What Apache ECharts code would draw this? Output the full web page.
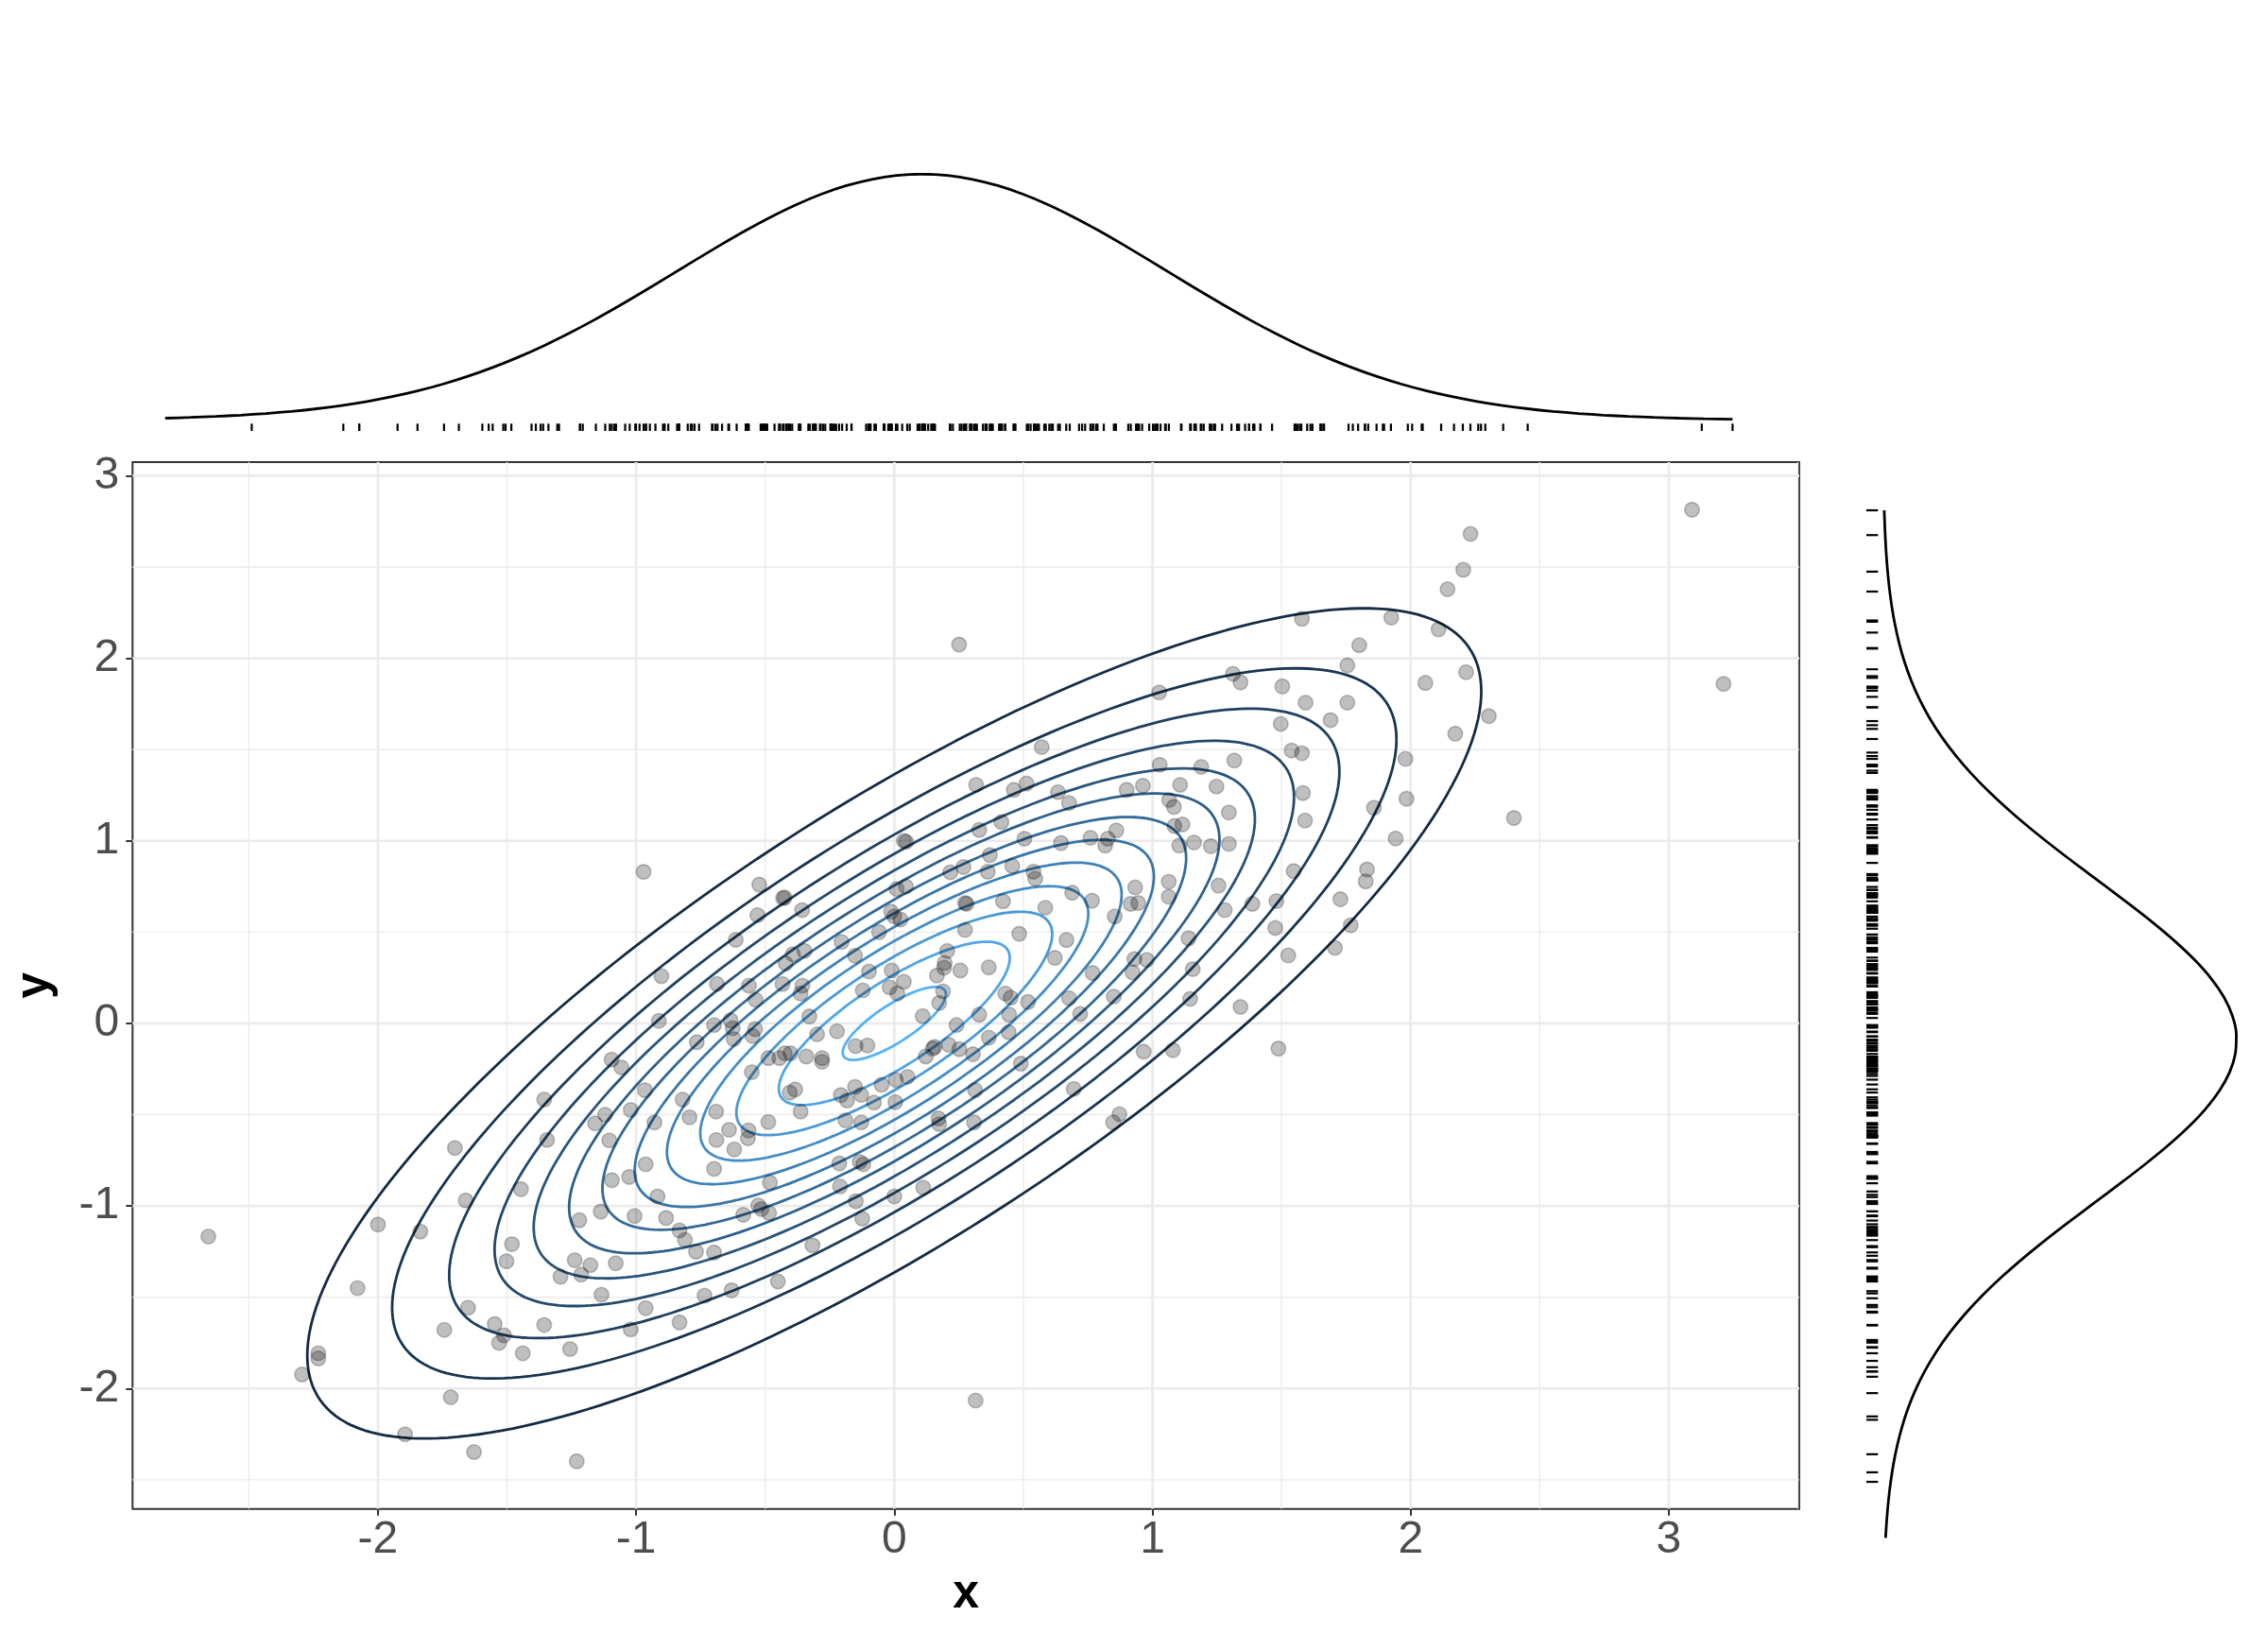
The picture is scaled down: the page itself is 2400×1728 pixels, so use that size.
<!DOCTYPE html>
<html>
<head>
<meta charset="utf-8">
<script src="https://cdn.jsdelivr.net/npm/echarts@6/dist/echarts.min.js"></script>
<style>
html,body{margin:0;padding:0;background:#ffffff;}
#chart{width:2400px;height:1728px;}
</style>
</head>
<body>
<div id="chart"></div>
<script>
// ---------------- data ----------------
const pointsX = [
-0.902,-0.687,-0.563,-0.537,-0.433,-0.421,-0.393,-0.348,-0.356,-0.363,
-0.329,-0.912,-0.698,-0.634,-0.626,-0.622,-0.539,-0.549,-0.765,-0.222,
-0.299,-1.095,-1.057,-0.488,-0.445,-0.424,-0.402,-0.341,-0.280,-0.280,
-0.552,-0.384,-0.405,-0.207,-0.183,-1.356,-0.966,-0.820,-1.021,-1.120,
-1.159,-0.929,-0.793,-0.690,-0.640,-0.689,-0.620,-0.565,-0.567,-0.488,
-0.363,-0.189,-1.345,-1.104,-0.963,-0.698,-1.094,-1.027,-0.917,-0.213,
-0.134,-0.120,-0.482,-0.210,-0.149,0.000,0.112,-0.527,-0.515,-0.485,
-0.585,-1.220,-1.137,-1.006,-0.884,-0.832,-0.811,-0.124,-0.768,-0.698,
-0.317,-1.238,-1.177,-1.079,-1.213,-1.293,-1.134,-0.963,-0.735,-0.630,
-0.451,-1.356,-1.021,-0.832,-1.256,
0.571,0.317,0.463,0.512,0.634,0.677,1.028,1.189,1.317,0.900,
0.963,1.107,1.248,1.065,1.083,1.296,1.085,1.116,1.104,1.161,
1.226,1.296,0.415,0.329,0.504,0.646,0.760,0.817,0.827,0.860,
0.037,0.046,0.370,0.362,0.457,0.539,0.546,0.268,0.217,0.009,
0.045,0.280,0.274,0.421,0.689,0.585,0.766,0.933,0.915,0.945,
0.854,1.063,1.063,1.256,1.280,1.387,1.480,1.476,-0.012,0.000,
0.024,-0.059,0.274,0.484,0.667,0.622,1.140,0.930,0.978,0.923,
1.156,0.768,-0.152,-0.098,-0.010,0.037,-0.122,-0.018,0.012,0.205,
0.195,0.193,0.165,0.256,0.366,0.189,0.174,0.110,0.241,0.329,
0.430,0.451,0.445,0.518,0.443,0.366,0.677,0.720,0.850,1.146,
1.341,-0.150,-0.104,0.149,0.156,0.122,0.211,0.252,0.305,0.490,
0.966,1.079,1.488,-0.049,0.006,0.051,-0.152,-0.128,-0.079,0.004,
0.313,0.695,0.872,0.848,0.171,0.174,0.309,-0.128,
0.251,-0.971,-0.523,-0.431,-0.425,-0.357,-0.530,-0.614,-0.204,
3.090,2.232,2.204,2.143,1.579,1.925,2.108,1.801,1.755,3.212,
1.312,1.341,1.503,2.215,2.057,1.026,1.593,1.755,2.303,1.690,
1.497,2.173,1.539,1.579,1.980,1.583,1.591,1.984,1.858,2.400,
1.942,1.831,1.826,1.547,1.728,1.768,1.707,1.526,
-2.657,-2.000,-1.836,-1.702,-1.660,-1.446,-1.481,-1.502,-2.079,-1.743,
-1.651,-1.548,-1.512,-1.531,-1.439,-2.231,-2.231,-2.294,-1.718,-1.895,
-1.628,-1.230,0.315
];
const pointsY = [
0.259,0.216,0.207,0.129,0.216,0.328,0.379,0.397,0.207,0.164,
0.038,0.014,-0.009,0.017,-0.026,-0.086,-0.031,-0.069,-0.103,-0.043,
-0.060,-0.198,-0.241,-0.190,-0.190,-0.164,-0.164,-0.181,-0.190,-0.210,
-0.267,-0.362,-0.379,-0.393,-0.422,-0.417,-0.366,-0.417,-0.474,-0.500,
-0.548,-0.543,-0.514,-0.483,-0.583,-0.638,-0.690,-0.586,-0.629,-0.540,
-0.483,-0.531,-0.638,-0.641,-0.772,-0.797,-0.859,-0.841,-0.948,-0.767,
-0.759,-0.772,-0.871,-0.893,-0.974,-0.948,-0.900,-0.997,-1.017,-1.038,
-1.048,-1.078,-1.031,-1.055,-1.066,-1.134,-1.186,-1.069,-1.250,-1.255,
-1.216,-1.297,-1.324,-1.314,-1.376,-1.388,-1.486,-1.560,-1.491,-1.462,
-1.414,-1.652,-1.676,-1.638,-1.784,
1.514,1.307,1.279,1.314,1.267,1.207,1.417,1.405,1.440,1.279,
1.302,1.307,1.298,1.224,1.186,1.155,1.081,1.090,0.974,0.991,
0.971,0.983,1.103,1.060,1.012,0.988,1.017,0.974,1.012,1.057,
1.000,0.995,0.922,0.831,0.862,0.831,0.793,0.857,0.828,0.736,
0.750,0.655,0.660,0.669,0.716,0.634,0.672,0.745,0.655,0.660,
0.586,0.776,0.693,0.755,0.621,0.655,0.670,0.523,0.612,0.586,
0.569,0.500,0.512,0.491,0.457,0.359,0.466,0.353,0.348,0.279,
0.297,0.276,0.371,0.284,0.290,0.228,0.181,0.198,0.164,0.397,
0.331,0.305,0.262,0.290,0.307,0.176,0.112,0.040,-0.009,0.048,
0.164,0.141,0.048,0.117,-0.048,-0.078,0.138,0.052,0.147,0.134,
0.090,-0.124,-0.121,-0.138,-0.129,-0.181,-0.117,-0.141,-0.169,-0.221,
-0.155,-0.147,-0.138,-0.336,-0.310,-0.293,-0.348,-0.391,-0.434,-0.431,
-0.366,-0.359,-0.497,-0.543,-0.521,-0.552,-0.543,-0.543,
2.075,0.830,0.760,0.686,0.690,0.621,0.593,0.458,0.446,
2.814,2.681,2.485,2.378,2.216,2.223,2.158,2.072,1.961,1.860,
1.915,1.868,1.846,1.924,1.865,1.813,1.757,1.757,1.683,1.661,
1.641,1.587,1.495,1.480,1.449,1.262,1.111,1.231,1.181,1.125,
1.013,0.843,0.778,0.834,0.680,0.538,0.414,0.372,
-1.168,-1.102,-1.140,-0.682,-0.970,-0.908,-1.209,-1.303,-1.450,-1.679,
-1.557,-1.647,-1.709,-1.750,-1.807,-1.807,-1.835,-1.923,-2.048,-2.251,
-2.348,-2.399,-2.066
];

// axis ticks / gridlines
const xTickValues = [-2, -1, 0, 1, 2, 3];
const yTickValues = [-2, -1, 0, 1, 2, 3];
const xMinorValues = [-2.5, -1.5, -0.5, 0.5, 1.5, 2.5, 3.5];
const yMinorValues = [-2.5, -1.5, -0.5, 0.5, 1.5, 2.5];

// 2-D density contours: bivariate normal, unit variances, correlation rho
const contourLevels = [0.02, 0.04, 0.06, 0.08, 0.10, 0.12, 0.14, 0.16, 0.18, 0.20, 0.22, 0.24, 0.26];
const contourRho = 0.8;
const contourMean = [0, 0];

// marginal density curves (relative height)
const topDensityX = [
-3.0,-2.9,-2.8,-2.7,-2.6,-2.5,-2.4,-2.3,-2.2,-2.1,-2.0,-1.9,-1.8,-1.7,-1.6,-1.5,-1.4,-1.3,-1.2,-1.1,
-1.0,-0.9,-0.8,-0.7,-0.6,-0.5,-0.4,-0.3,-0.2,-0.1,0.0,
0.1,0.2,0.3,0.4,0.5,0.6,0.7,0.8,0.9,1.0,1.1,1.2,1.3,1.4,1.5,1.6,1.7,1.8,1.9,
2.0,2.1,2.2,2.3,2.4,2.5,2.6,2.7,2.8,2.9,3.0,3.1,3.212];
const topDensity = [
0.0084,0.0115,0.0155,0.0208,0.0275,0.0361,0.0468,0.0601,0.0764,0.0960,0.1193,0.1468,0.1788,0.2153,0.2566,0.3025,0.3529,0.4073,0.4652,0.5257,
0.5878,0.6502,0.7117,0.7708,0.8259,0.8756,0.9185,0.9533,0.9790,0.9947,1.0,
0.9947,0.9790,0.9533,0.9185,0.8756,0.8259,0.7708,0.7117,0.6502,0.5878,0.5257,0.4652,0.4073,0.3529,0.3025,0.2566,0.2153,0.1788,0.1468,
0.1193,0.0960,0.0764,0.0601,0.0468,0.0361,0.0275,0.0208,0.0155,0.0115,0.0084,0.0061,0.0041];
const rightDensityY = [
-2.7,-2.6,-2.5,-2.4,-2.3,-2.2,-2.1,-2.0,-1.9,-1.8,-1.7,-1.6,-1.5,-1.4,-1.3,-1.2,-1.1,-1.0,-0.9,-0.8,
-0.7,-0.6,-0.5,-0.4,-0.3,-0.2,-0.1,0.0,0.1,0.2,0.3,0.4,0.5,0.6,0.7,0.8,0.9,1.0,1.1,1.2,
1.3,1.4,1.5,1.6,1.7,1.8,1.9,2.0,2.1,2.2,2.3,2.4,2.5,2.6,2.7,2.814];
const rightDensity = [
0.0081,0.0115,0.0162,0.0224,0.0307,0.0415,0.0552,0.0725,0.0940,0.1203,0.1518,0.1889,0.2320,0.2812,0.3361,0.3964,0.4611,0.5294,0.5995,0.6698,
0.7382,0.8028,0.8613,0.9116,0.9519,0.9807,0.9967,0.9994,0.9886,0.9649,0.9290,0.8825,0.8270,0.7647,0.6975,0.6277,0.5573,0.4881,0.4218,0.3596,
0.3025,0.2510,0.2055,0.1659,0.1322,0.1039,0.0806,0.0617,0.0466,0.0347,0.0255,0.0185,0.0132,0.0093,0.0065,0.0042];

// ---------------- helpers ----------------
function expandRange(arr, f) {
  const mn = Math.min.apply(null, arr), mx = Math.max.apply(null, arr);
  const d = (mx - mn) * f;
  return [mn - d, mx + d];
}
function hexToRgb(h){h=h.replace('#','');return [0,2,4].map(i=>parseInt(h.substr(i,2),16));}
function s2l(c){c/=255;return c<=0.04045?c/12.92:Math.pow((c+0.055)/1.055,2.4);}
function l2s(c){const v=c<=0.0031308?12.92*c:1.055*Math.pow(c,1/2.4)-0.055;return Math.max(0,Math.min(255,Math.round(v*255)));}
function rgbToLab(rgb){
  const [r,g,b]=rgb.map(s2l);
  const X=(0.4124*r+0.3576*g+0.1805*b)/0.95047, Y=(0.2126*r+0.7152*g+0.0722*b), Z=(0.0193*r+0.1192*g+0.9505*b)/1.08883;
  const f=t=>t>0.008856?Math.cbrt(t):(7.787*t+16/116);
  const fx=f(X),fy=f(Y),fz=f(Z);
  return [116*fy-16,500*(fx-fy),200*(fy-fz)];
}
function labToHex(lab){
  const [L,a,b]=lab; const fy=(L+16)/116, fx=fy+a/500, fz=fy-b/200;
  const fi=t=>{const t3=t*t*t;return t3>0.008856?t3:(t-16/116)/7.787;};
  const X=fi(fx)*0.95047, Y=fi(fy), Z=fi(fz)*1.08883;
  const r=3.2406*X-1.5372*Y-0.4986*Z, g=-0.9689*X+1.8758*Y+0.0415*Z, bb=0.0557*X-0.2040*Y+1.0570*Z;
  return '#'+[r,g,bb].map(l2s).map(v=>v.toString(16).padStart(2,'0')).join('');
}
const lowLab = rgbToLab(hexToRgb('#132B43'));
const highLab = rgbToLab(hexToRgb('#56B1F7'));
function levelColor(t){ return labToHex([0,1,2].map(i=>lowLab[i]+(highLab[i]-lowLab[i])*t)); }

const xRange = expandRange(pointsX, 0.05);
const yRange = expandRange(pointsY, 0.05);

// ---------------- contour series ----------------
const hMax = 1 / (2 * Math.PI * Math.sqrt(1 - contourRho * contourRho));
const lvMin = Math.min.apply(null, contourLevels), lvMax = Math.max.apply(null, contourLevels);
const contourSeries = contourLevels.map(function (h) {
  const r = Math.sqrt(-2 * Math.log(h / hMax));
  const s = Math.sqrt(1 - contourRho * contourRho);
  const pts = [];
  const n = 240;
  for (let i = 0; i <= n; i++) {
    const t = 2 * Math.PI * i / n;
    const c = Math.cos(t), sn = Math.sin(t);
    pts.push([contourMean[0] + r * c, contourMean[1] + r * (contourRho * c + s * sn)]);
  }
  return {
    type: 'line', xAxisIndex: 0, yAxisIndex: 0, data: pts, showSymbol: false, symbol: 'none',
    smooth: false, silent: true, z: 3,
    lineStyle: { color: levelColor((h - lvMin) / (lvMax - lvMin)), width: 2.8 }
  };
});

const FONT = '"Liberation Sans", Arial, Helvetica, sans-serif';
const chart = echarts.init(document.getElementById('chart'), null, { renderer: 'canvas' });

const option = {
  backgroundColor: '#ffffff',
  animation: false,
  grid: [
    { left: 140.3, top: 489, width: 1763.7, height: 1107.7, show: true, borderColor: '#333333', borderWidth: 2,
      backgroundColor: '#ffffff', containLabel: false, outerBoundsMode: 'none' },
    { left: 174.8, top: 184.3, width: 1658.6, height: 260.4, containLabel: false, outerBoundsMode: 'none' },
    { left: 1992.3, top: 540.0, width: 374.4, height: 1087.4, containLabel: false, outerBoundsMode: 'none' }
  ],
  xAxis: [
    { type: 'value', gridIndex: 0, min: xRange[0], max: xRange[1], position: 'bottom',
      axisLine: { show: false, onZero: false }, splitLine: { show: false }, minorTick: { show: false },
      axisTick: { show: true, length: 7, lineStyle: { color: '#333333', width: 2 }, customValues: xTickValues },
      axisLabel: { customValues: xTickValues, margin: 9, fontSize: 48, color: '#4D4D4D', fontFamily: FONT },
      name: 'x', nameLocation: 'middle', nameGap: 66,
      nameTextStyle: { fontSize: 50, fontWeight: 'bold', color: '#000000', fontFamily: FONT } },
    { type: 'value', gridIndex: 1, min: topDensityX[0], max: topDensityX[topDensityX.length - 1], show: false },
    { type: 'value', gridIndex: 2, min: 0, max: 1, show: false }
  ],
  yAxis: [
    { type: 'value', gridIndex: 0, min: yRange[0], max: yRange[1], position: 'left',
      axisLine: { show: false, onZero: false }, splitLine: { show: false }, minorTick: { show: false },
      axisTick: { show: true, length: 7, lineStyle: { color: '#333333', width: 2 }, customValues: yTickValues },
      axisLabel: { customValues: yTickValues, margin: 14, fontSize: 48, color: '#4D4D4D', fontFamily: FONT },
      name: 'y', nameLocation: 'middle', nameGap: 78, nameRotate: 90,
      nameTextStyle: { fontSize: 50, fontWeight: 'bold', color: '#000000', fontFamily: FONT } },
    { type: 'value', gridIndex: 1, min: 0, max: 1, show: false },
    { type: 'value', gridIndex: 2, min: rightDensityY[0], max: rightDensityY[rightDensityY.length - 1], show: false }
  ],
  series: [
    // panel gridlines
    { type: 'custom', xAxisIndex: 0, yAxisIndex: 0, data: [[0, 0]], silent: true, z: 1, clip: true,
      renderItem: function (params, api) {
        const cs = params.coordSys;
        const kids = [];
        function vline(v, w) {
          const X = api.coord([v, 0])[0];
          if (X > cs.x && X < cs.x + cs.width)
            kids.push({ type: 'line', shape: { x1: X, y1: cs.y, x2: X, y2: cs.y + cs.height }, style: { stroke: '#EBEBEB', lineWidth: w } });
        }
        function hline(v, w) {
          const Y = api.coord([0, v])[1];
          if (Y > cs.y && Y < cs.y + cs.height)
            kids.push({ type: 'line', shape: { x1: cs.x, y1: Y, x2: cs.x + cs.width, y2: Y }, style: { stroke: '#EBEBEB', lineWidth: w } });
        }
        xMinorValues.forEach(v => vline(v, 1.4));
        yMinorValues.forEach(v => hline(v, 1.4));
        xTickValues.forEach(v => vline(v, 2.7));
        yTickValues.forEach(v => hline(v, 2.7));
        return { type: 'group', children: kids };
      }
    }
  ].concat(contourSeries).concat([
    { type: 'scatter', xAxisIndex: 0, yAxisIndex: 0, z: 4, silent: true,
      data: pointsX.map((x, i) => [x, pointsY[i]]),
      symbol: 'circle', symbolSize: 15.5,
      itemStyle: { color: 'rgba(0,0,0,0.25)', borderColor: 'rgba(0,0,0,0.22)', borderWidth: 1.6, opacity: 1 }
    },
    // top marginal density
    { type: 'line', xAxisIndex: 1, yAxisIndex: 1, silent: true, showSymbol: false, symbol: 'none', smooth: 0.3,
      data: topDensityX.map((x, i) => [x, topDensity[i]]),
      lineStyle: { color: '#000000', width: 2.8 } },
    // top rug
    { type: 'custom', xAxisIndex: 1, yAxisIndex: 1, silent: true, clip: false,
      data: pointsX.map(x => [x, 0]),
      renderItem: function (params, api) {
        const p = api.coord([api.value(0), 0]);
        return { type: 'line', shape: { x1: p[0], y1: p[1] + 3.6, x2: p[0], y2: p[1] + 11.3 }, style: { stroke: '#000000', lineWidth: 2.2 } };
      }
    },
    // right marginal density
    { type: 'line', xAxisIndex: 2, yAxisIndex: 2, silent: true, showSymbol: false, symbol: 'none', smooth: 0.3,
      data: rightDensityY.map((y, i) => [rightDensity[i], y]),
      lineStyle: { color: '#000000', width: 2.8 } },
    // right rug
    { type: 'custom', xAxisIndex: 2, yAxisIndex: 2, silent: true, clip: false,
      data: pointsY.map(y => [0, y]),
      renderItem: function (params, api) {
        const p = api.coord([0, api.value(1)]);
        return { type: 'line', shape: { x1: p[0] - 17.3, y1: p[1], x2: p[0] - 5, y2: p[1] }, style: { stroke: '#000000', lineWidth: 2.2 } };
      }
    }
  ])
};
chart.setOption(option);
</script>
</body>
</html>
